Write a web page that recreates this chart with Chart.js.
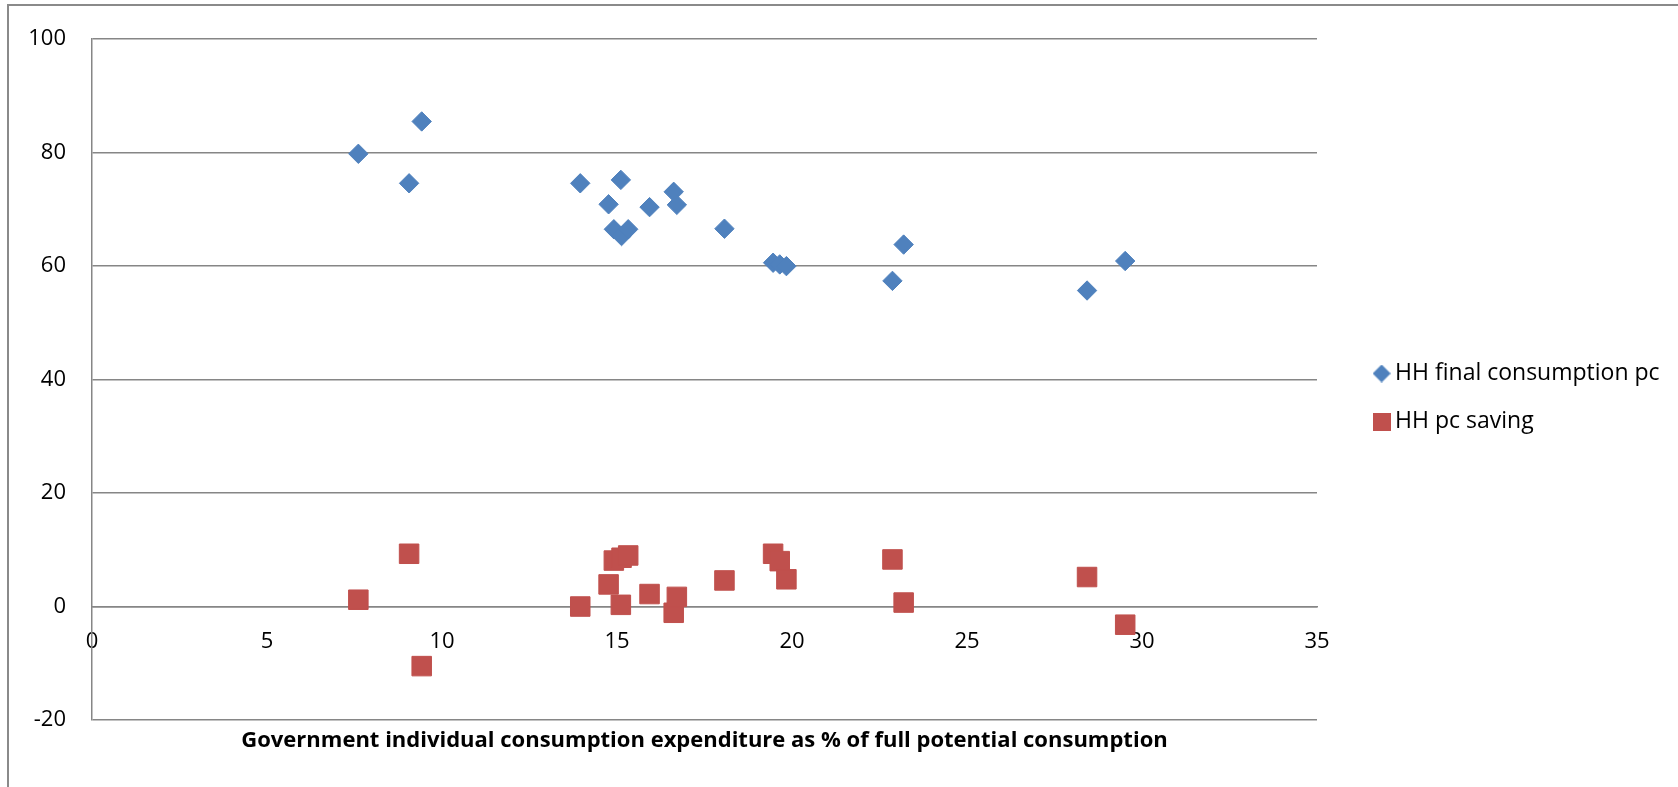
<!DOCTYPE html>
<html>
<head>
<meta charset="utf-8">
<script src="https://cdn.jsdelivr.net/npm/chart.js@4.4.0/dist/chart.umd.min.js"></script>
<style>
  html, body { margin: 0; padding: 0; background: #fff; overflow: hidden; }
  #frame { position: absolute; left: 7px; top: 4px; width: 1700px; height: 820px;
           border-left: 2px solid #8a8a8a; border-top: 2px solid #8a8a8a; }
  #hhChart { position: absolute; left: 0; top: 0; }
</style>
</head>
<body>
<div id="frame"></div>
<canvas id="hhChart" width="1678" height="787"></canvas>
<script>
// one entry per country
const govShare    = [7.61, 9.06, 9.42, 13.95, 14.76, 14.91, 15.11, 15.13, 15.32, 15.93, 16.62, 16.71, 18.07, 19.46, 19.65, 19.84, 22.87, 23.19, 28.43, 29.52];
const finalConsPc = [79.8, 74.6, 85.5, 74.6, 70.9, 66.5, 75.2, 65.3, 66.5, 70.4, 73.1, 70.8, 66.6, 60.6, 60.3, 60.0, 57.4, 63.8, 55.7, 60.9];
const savingPc    = [1.2, 9.3, -10.5, 0.0, 3.9, 8.1, 0.3, 8.6, 9.0, 2.2, -1.1, 1.7, 4.6, 9.3, 8.0, 4.8, 8.3, 0.7, 5.2, -3.2];

const seriesNames = ['HH final consumption pc', 'HH pc saving'];
const xTickValues = [0, 5, 10, 15, 20, 25, 30, 35];
const yTickValues = [-20, 0, 20, 40, 60, 80, 100];
const xAxisTitle = 'Government individual consumption expenditure as % of full potential consumption';

const BLUE = '#4F81BD';
const RED = '#C0504D';
const GRID = '#868686';
const FONT = "'Open Sans', sans-serif";
const LEGEND_SIZE = 23;

// legend width depends on the text, so measure it to keep the plot edge fixed
const probe = document.createElement('canvas').getContext('2d');
probe.font = LEGEND_SIZE + 'px ' + FONT;
const legendTextW = Math.max(...seriesNames.map(t => probe.measureText(t).width));
const padRight = Math.max(0, 272.9 - legendTextW);

function legendIcon(shape, color) {
    const c = document.createElement('canvas');
    c.width = c.height = 18;
    const g = c.getContext('2d');
    g.fillStyle = color;
    if (shape === 'diamond') {
        g.beginPath();
        g.moveTo(9, 0); g.lineTo(18, 9); g.lineTo(9, 18); g.lineTo(0, 9);
        g.closePath();
        g.fill();
    } else {
        g.fillRect(0, 0, 18, 18);
    }
    return c;
}
const legendIcons = [legendIcon('diamond', BLUE), legendIcon('square', RED)];

Chart.defaults.font.family = FONT;
Chart.defaults.color = '#000';

new Chart(document.getElementById('hhChart'), {
    type: 'scatter',
    data: {
        datasets: [{
            label: seriesNames[0],
            data: govShare.map((x, i) => ({ x: x, y: finalConsPc[i] })),
            pointStyle: 'rectRot',
            pointRadius: 9.7,
            pointHoverRadius: 9.7,
            backgroundColor: BLUE,
            borderColor: BLUE,
            borderWidth: 1
        }, {
            label: seriesNames[1],
            data: govShare.map((x, i) => ({ x: x, y: savingPc[i] })),
            pointStyle: 'rect',
            pointRadius: 13.8,
            pointHoverRadius: 13.8,
            backgroundColor: RED,
            borderColor: RED,
            borderWidth: 1
        }]
    },
    options: {
        responsive: false,
        animation: false,
        devicePixelRatio: 1,
        events: [],
        layout: {
            padding: { top: 34, bottom: 26, left: 0, right: padRight }
        },
        plugins: {
            tooltip: { enabled: false },
            legend: {
                position: 'right',
                maxWidth: 323.4,
                labels: {
                    usePointStyle: true,
                    boxWidth: 4,
                    padding: 25,
                    font: { size: LEGEND_SIZE },
                    color: '#000',
                    generateLabels: chart => Chart.defaults.plugins.legend.labels.generateLabels(chart)
                        .map((item, i) => Object.assign(item, { pointStyle: legendIcons[i] }))
                }
            },
            title: {
                display: true,
                position: 'bottom',
                fullSize: false,
                text: xAxisTitle,
                color: '#000',
                font: { size: 22, weight: 'bold' },
                padding: { top: 8, bottom: 6.6 }
            }
        },
        scales: {
            x: {
                type: 'linear',
                position: { y: 0 },
                min: xTickValues[0],
                max: xTickValues[xTickValues.length - 1],
                afterBuildTicks: s => { s.ticks = xTickValues.map(v => ({ value: v })); },
                grid: { display: false, drawTicks: false },
                border: { color: GRID, width: 1.5 },
                ticks: { padding: 22, maxRotation: 0, autoSkip: false, font: { size: 22 }, color: '#000' }
            },
            y: {
                type: 'linear',
                position: 'left',
                min: yTickValues[0],
                max: yTickValues[yTickValues.length - 1],
                afterBuildTicks: s => { s.ticks = yTickValues.map(v => ({ value: v })); },
                afterFit: s => { s.width = 92; },
                grid: { color: GRID, lineWidth: 1.5, drawTicks: false },
                border: { color: GRID, width: 1.5 },
                ticks: { padding: 26, font: { size: 22 }, color: '#000' }
            },
            // empty spacer between the plot and the legend
            gap: {
                type: 'linear',
                axis: 'y',
                position: 'right',
                display: false,
                afterFit: s => { s.width = 37.6; }
            }
        }
    }
});
</script>
</body>
</html>
